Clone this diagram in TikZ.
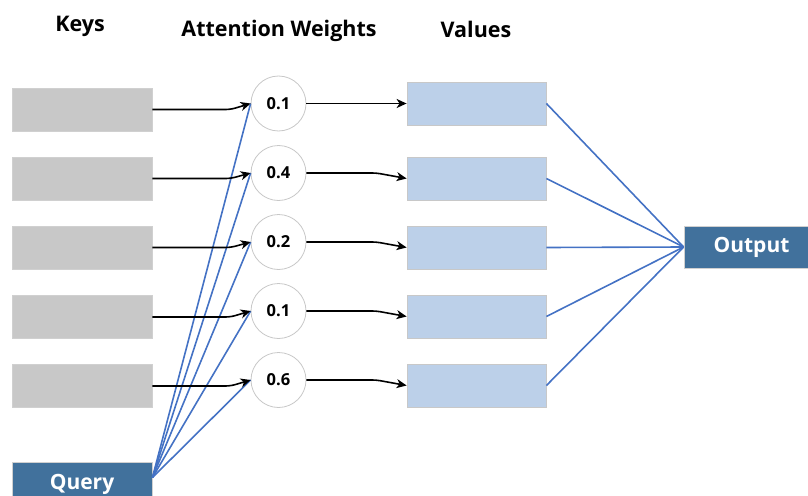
\documentclass[tikz,border=0pt]{standalone}
\usepackage{fontspec}
\setmainfont{Open Sans}
\usetikzlibrary{arrows.meta,calc}
\definecolor{keygray}{HTML}{C8C8C8}
\definecolor{valblue}{HTML}{BCD0E9}
\definecolor{darkblue}{HTML}{41719C}
\definecolor{linkblue}{HTML}{4472C4}
\definecolor{rimgray}{HTML}{D0D0D0}
\tikzset{
  keybox/.style={rectangle, fill=keygray, draw=rimgray, line width=0.6pt,
    minimum width=140pt, minimum height=43pt, inner sep=0pt},
  valbox/.style={rectangle, fill=valblue, draw=keygray, line width=0.8pt,
    minimum width=139pt, minimum height=43pt, inner sep=0pt},
  weight/.style={circle, fill=white, draw=keygray, line width=0.8pt,
    minimum size=55pt, inner sep=0pt, font=\fontsize{16.5}{18}\selectfont\bfseries},
  darkbox/.style={rectangle, fill=darkblue, draw=rimgray, line width=0.8pt,
    text=white, inner sep=0pt, font=\fontsize{21}{24}\selectfont\bfseries},
  header/.style={font=\fontsize{21.5}{24}\selectfont\bfseries, inner sep=0pt},
  arr/.style={draw=black, line width=1.6pt,
    -{Stealth[length=10pt,width=9pt,inset=3pt]}},
  link/.style={draw=linkblue, line width=1.6pt},
}
\begin{document}
\begin{tikzpicture}[x=1pt,y=-1pt]
  \useasboundingbox (0,0) rectangle (808,495);
  \clip (0,0) rectangle (808,495);

  % column headers
  \node[header] (hk) at (80,26) {Keys};
  \node[header] (ha) at (279,31) {Attention Weights};
  \node[header] (hv) at (476,29) {Values};

  % keys, weights and values
  \foreach \i/\ky/\cy/\vy/\w in {1/109.5/103.5/103.5/0.1,
                                 2/178.5/173/178.5/0.4,
                                 3/247.5/242/247.5/0.2,
                                 4/317/311/316.5/0.1,
                                 5/386/380/385.5/0.6}{
    \node[keybox] (k\i) at (82,\ky) {};
    \node[weight] (c\i) at (278.5,\cy) {\w};
    \node[valbox] (v\i) at (476.5,\vy) {};
  }

  % query and output
  \node[darkbox, minimum width=140pt, minimum height=44pt] (q) at (82,484) {Query};
  \node[darkbox, minimum width=135pt, minimum height=42pt] (o) at (751.5,247) {Output};

  % query to every weight
  \foreach \i in {1,...,5}{
    \draw[link] ($(q.north east)+(0,16)$) -- (c\i.west);
  }

  % keys to weights, weights to values
  \foreach \i in {1,...,5}{
    \draw[arr, rounded corners=5pt] (k\i.east) -- ($(k\i.east -| c\i.west)+(-20,0)$) -- (c\i.west);
    \draw[arr, rounded corners=4pt] (c\i.east) -- ($(c\i.east)+(70,0)$) -- (v\i.west);
  }

  % values to output
  \foreach \i in {1,...,5}{
    \draw[link] (v\i.east) -- (o.west);
  }
\end{tikzpicture}
\end{document}
